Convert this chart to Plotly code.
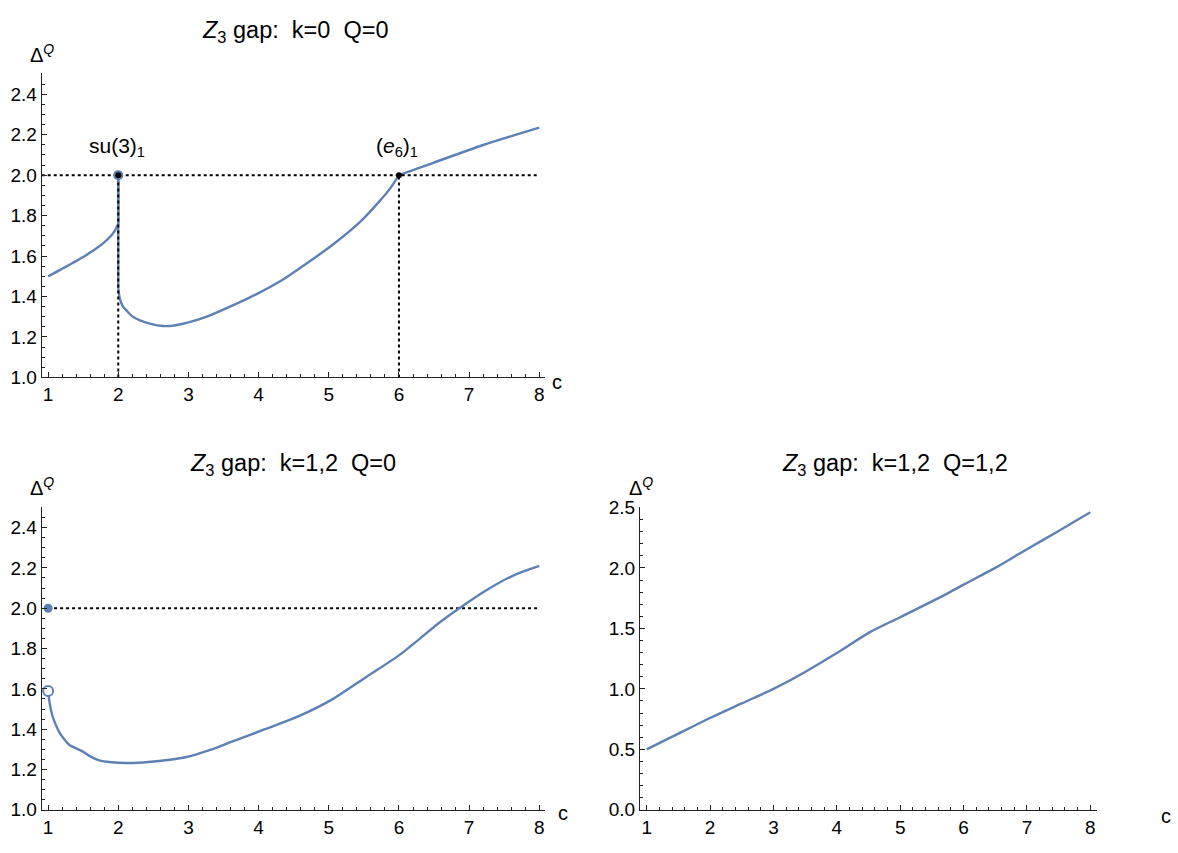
import plotly.graph_objects as go

# ---- data -------------------------------------------------------------
# k=0, Q=0 : branch left of the su(3)_1 point (ends with the vertical rise at c=2)
c_k0_left = [1.0, 1.1, 1.2, 1.3, 1.4, 1.5, 1.6, 1.7, 1.8, 1.9, 1.95, 2.0, 2.0]
gap_k0_left = [1.500, 1.518, 1.537, 1.556, 1.575, 1.595, 1.617, 1.641, 1.668, 1.702, 1.725, 1.76, 2.0]

# k=0, Q=0 : branch right of the su(3)_1 point (starts with the vertical drop at c=2)
c_k0_right = [2.0, 2.0, 2.025, 2.06, 2.12, 2.2, 2.31, 2.45, 2.64, 2.8, 3.0, 3.3, 3.64, 4.0,
              4.3, 4.59, 5.06, 5.45, 5.73, 5.87, 6.0, 6.49, 7.2, 8.0]
gap_k0_right = [2.0, 1.44, 1.386, 1.355, 1.33, 1.302, 1.282, 1.266, 1.254, 1.257, 1.272, 1.306,
                1.357, 1.417, 1.474, 1.541, 1.657, 1.770, 1.874, 1.932, 2.0, 2.061, 2.149, 2.235]

# k=1,2, Q=0
c_k12_q0 = [1.0, 1.014, 1.06, 1.1, 1.157, 1.23, 1.30, 1.49, 1.6, 1.73, 1.9, 2.11, 2.35, 2.58,
            2.96, 3.3, 3.62, 4.1, 4.58, 5.05, 5.53, 6.0, 6.29, 6.57, 6.86, 7.24, 7.62, 8.0]
gap_k12_q0 = [1.59, 1.548, 1.468, 1.43, 1.387, 1.35, 1.323, 1.29, 1.265, 1.245, 1.236, 1.232,
              1.235, 1.242, 1.261, 1.296, 1.338, 1.401, 1.466, 1.548, 1.658, 1.766, 1.847, 1.927,
              2.0, 2.088, 2.161, 2.21]

# k=1,2, Q=1,2
c_k12_q12 = [1.0, 1.5, 2.0, 2.5, 3.0, 3.5, 4.0, 4.53, 5.0, 5.71, 6.0, 6.5, 7.0, 7.5, 8.0]
gap_k12_q12 = [0.5, 0.63, 0.759, 0.88, 1.0, 1.14, 1.296, 1.471, 1.592, 1.779, 1.862, 2.0,
               2.155, 2.305, 2.46]

# special points
ref_gap = 2.0
c_su3 = 2.0
c_e6 = 6.0
c_min, c_max = 1.0, 8.0
k12_open_gap = 1.59

x_ticks = [1, 2, 3, 4, 5, 6, 7, 8]

BLUE = "#5E81B5"
FONT = "Liberation Sans, Arial, Helvetica, sans-serif"
TICK = 19
LABEL = 21
TITLE = 23.5

fig = go.Figure()

line_plain = dict(color=BLUE, width=2.4)
line_smooth = dict(color=BLUE, width=2.4, shape="spline", smoothing=0.8)
dot_style = dict(color="black", width=2, dash="3px,3px")


def curve(xs, ys, ax, smooth=True):
    fig.add_trace(go.Scatter(x=xs, y=ys, mode="lines",
                             line=line_smooth if smooth else line_plain,
                             xaxis=ax, yaxis=ax.replace("x", "y")))


# ---- panel 1: k=0 Q=0 ---------------------------------------------------
i_e6 = c_k0_right.index(c_e6)
curve(c_k0_left[:-1], gap_k0_left[:-1], "x")           # smooth rise up to c=2
curve(c_k0_left[-2:], gap_k0_left[-2:], "x", False)    # vertical jump at c=2
curve(c_k0_right[:2], gap_k0_right[:2], "x", False)    # vertical drop at c=2
curve(c_k0_right[1:i_e6 + 1], gap_k0_right[1:i_e6 + 1], "x")
curve(c_k0_right[i_e6:], gap_k0_right[i_e6:], "x")

for xs, ys in (([0.909, c_max], [ref_gap, ref_gap]),
               ([c_su3, c_su3], [1.0, ref_gap]),
               ([c_e6, c_e6], [1.0, ref_gap])):
    fig.add_trace(go.Scatter(x=xs, y=ys, mode="lines", line=dot_style, xaxis="x", yaxis="y"))

fig.add_trace(go.Scatter(x=[c_su3], y=[ref_gap], mode="markers",
                         marker=dict(color=BLUE, size=10, line=dict(width=0)),
                         xaxis="x", yaxis="y"))
fig.add_trace(go.Scatter(x=[c_su3, c_e6], y=[ref_gap, ref_gap], mode="markers",
                         marker=dict(color="black", size=6, line=dict(width=0)),
                         xaxis="x", yaxis="y"))

# ---- panel 2: k=1,2 Q=0 -------------------------------------------------
fig.add_trace(go.Scatter(x=[c_min, c_max], y=[ref_gap, ref_gap], mode="lines", line=dot_style,
                         xaxis="x2", yaxis="y2"))
curve(c_k12_q0, gap_k12_q0, "x2")
fig.add_trace(go.Scatter(x=[c_min], y=[ref_gap], mode="markers",
                         marker=dict(color=BLUE, size=9, line=dict(width=0)),
                         xaxis="x2", yaxis="y2"))
fig.add_trace(go.Scatter(x=[c_min], y=[k12_open_gap], mode="markers",
                         marker=dict(color="white", size=10, line=dict(color=BLUE, width=2)),
                         xaxis="x2", yaxis="y2"))

# ---- panel 3: k=1,2 Q=1,2 -----------------------------------------------
curve(c_k12_q12, gap_k12_q12, "x3")

# ---- axes ---------------------------------------------------------------
W, H = 1178, 853


def px_x(p):
    return p / W


def px_y(p):
    return 1 - p / H


def xaxis(domain, rng, anchor):
    return dict(domain=domain, range=rng, anchor=anchor, tickvals=x_ticks,
                showline=True, linecolor="#222", linewidth=1, ticks="inside",
                ticklen=5, tickwidth=1, tickcolor="#222",
                minor=dict(dtick=0.2, ticks="inside", ticklen=3, tickcolor="#222", tickwidth=1),
                showgrid=False, zeroline=False,
                tickfont=dict(family=FONT, size=TICK, color="black"), fixedrange=True)


def yaxis(domain, rng, anchor, dtick, minor_dtick, tick0):
    return dict(domain=domain, range=rng, anchor=anchor, dtick=dtick, tick0=tick0,
                tickformat=".1f", showline=True, linecolor="#222", linewidth=1,
                ticks="inside", ticklen=5, tickwidth=1, tickcolor="#222",
                minor=dict(dtick=minor_dtick, ticks="inside", ticklen=3, tickcolor="#222",
                           tickwidth=1),
                showgrid=False, zeroline=False,
                tickfont=dict(family=FONT, size=TICK, color="black"), fixedrange=True)


left_dom = [px_x(41.7), px_x(545)]
right_dom = [px_x(640), px_x(1097)]
top_dom = [px_y(376.7), px_y(65)]
bot_dom = [px_y(820), px_y(510)]

fig.update_layout(
    width=W, height=H, margin=dict(l=0, r=0, t=0, b=0),
    paper_bgcolor="white", plot_bgcolor="white", showlegend=False,
    xaxis=xaxis(left_dom, [0.909, 8.081], "y"),
    yaxis=yaxis(top_dom, [1.0, 2.503], "x", 0.2, 0.05, 1.0),
    xaxis2=xaxis(left_dom, [0.909, 8.081], "y2"),
    yaxis2=yaxis(bot_dom, [1.0, 2.5], "x2", 0.2, 0.05, 1.0),
    xaxis3=xaxis(right_dom, [0.894, 8.106], "y3"),
    yaxis3=yaxis(bot_dom, [0.0, 2.5], "x3", 0.5, 0.1, 0.0),
)

NB = "\u00a0"
ann = []


def text(x, y, s, xref="paper", yref="paper", size=LABEL):
    ann.append(dict(x=x, y=y, xref=xref, yref=yref, text=s, showarrow=False,
                    font=dict(family=FONT, size=size, color="black"),
                    xanchor="center", yanchor="middle"))


title_fmt = "<i>Z</i><sub>3</sub> gap:" + NB * 2 + "k={k}" + NB * 2 + "Q={q}"
text(px_x(295), px_y(22), title_fmt.format(k="0", q="0"), size=TITLE)
text(px_x(293), px_y(466), title_fmt.format(k="1,2", q="0"), size=TITLE)
text(px_x(895), px_y(466), title_fmt.format(k="1,2", q="1,2"), size=TITLE)

delta_q = "Δ<sup><i>Q</i></sup>"
text(px_x(42), px_y(45), delta_q, size=TICK + 1)
text(px_x(42), px_y(489), delta_q, size=TICK + 1)
text(px_x(641), px_y(489), delta_q, size=TICK + 1)

text(px_x(557), px_y(381), "c", size=TICK + 1)
text(px_x(563), px_y(823), "c", size=TICK + 1)
text(px_x(1166), px_y(826), "c", size=TICK + 1)

text(1.98, 2.14, "su(3)<sub>1</sub>", xref="x", yref="y")
text(5.97, 2.14, "(<i>e</i><sub>6</sub>)<sub>1</sub>", xref="x", yref="y")

fig.update_layout(annotations=ann)

fig.write_html("out.html")
